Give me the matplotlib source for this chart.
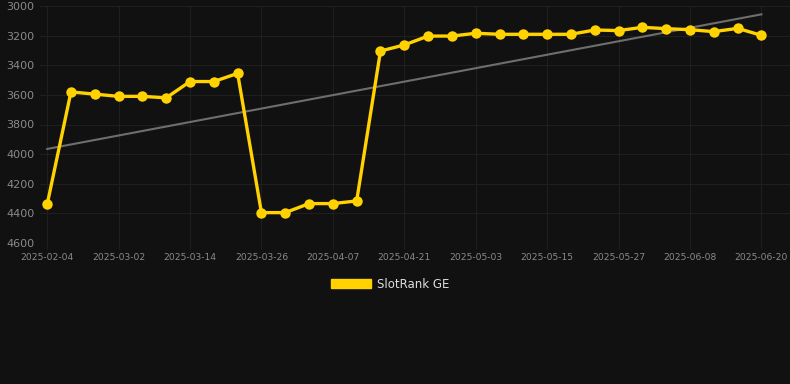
import matplotlib
matplotlib.use("Agg")
import matplotlib.pyplot as plt
import numpy as np
from matplotlib.patches import Patch

tick_labels = ['2025-02-04', '2025-03-02', '2025-03-14', '2025-03-26', '2025-04-07',
               '2025-04-21', '2025-05-03', '2025-05-15', '2025-05-27', '2025-06-08',
               '2025-06-20']
ranks = [4340, 3580, 3595, 3610, 3610, 3620, 3510, 3510, 3455, 4395, 4395,
         4334, 4334, 4316, 3304, 3263, 3203, 3203, 3184, 3191, 3191, 3191,
         3191, 3162, 3166, 3144, 3153, 3160, 3173, 3151, 3198]
series_name = 'SlotRank GE'

bg = '#111111'
gold = '#FFD200'
grid_c = '#1f1f1f'

x = np.arange(len(ranks))
slope, icpt = np.polyfit(x, ranks, 1)

fig = plt.figure(figsize=(7.9, 3.84), dpi=100, facecolor=bg)
ax = fig.add_axes([40 / 790, 1 - 243 / 384, 750 / 790, 237 / 384])
ax.set_facecolor(bg)

ax.plot(x, slope * x + icpt, color='#6e6e6e', lw=1.5, zorder=2)
ax.plot(x, ranks, color=gold, lw=2.4, marker='o', ms=7.5, mew=0, zorder=3)

ax.set_ylim(4600, 3000)
ax.set_xlim(-0.3, 31.2)
ax.set_yticks(np.arange(3000, 4601, 200))
ax.set_xticks(x[::3])
ax.set_xticklabels(tick_labels)
ax.grid(True, color=grid_c, lw=0.8)
ax.set_axisbelow(True)
for s in ax.spines.values():
    s.set_visible(False)
ax.tick_params(axis='y', colors='#8a8a8a', labelsize=8, length=0, pad=4)
ax.tick_params(axis='x', colors='#8a8a8a', labelsize=6.6, length=4, pad=3)
ax.tick_params(axis='x', color=grid_c)

fig.legend(handles=[Patch(facecolor=gold, edgecolor=gold, label=series_name)],
           loc='center', bbox_to_anchor=(390 / 790, 1 - 284 / 384), frameon=False,
           fontsize=8.5, labelcolor='#dddddd', handlelength=3.4, handleheight=0.9,
           handletextpad=0.5)

fig.savefig('out.png', dpi=100, facecolor=bg)
